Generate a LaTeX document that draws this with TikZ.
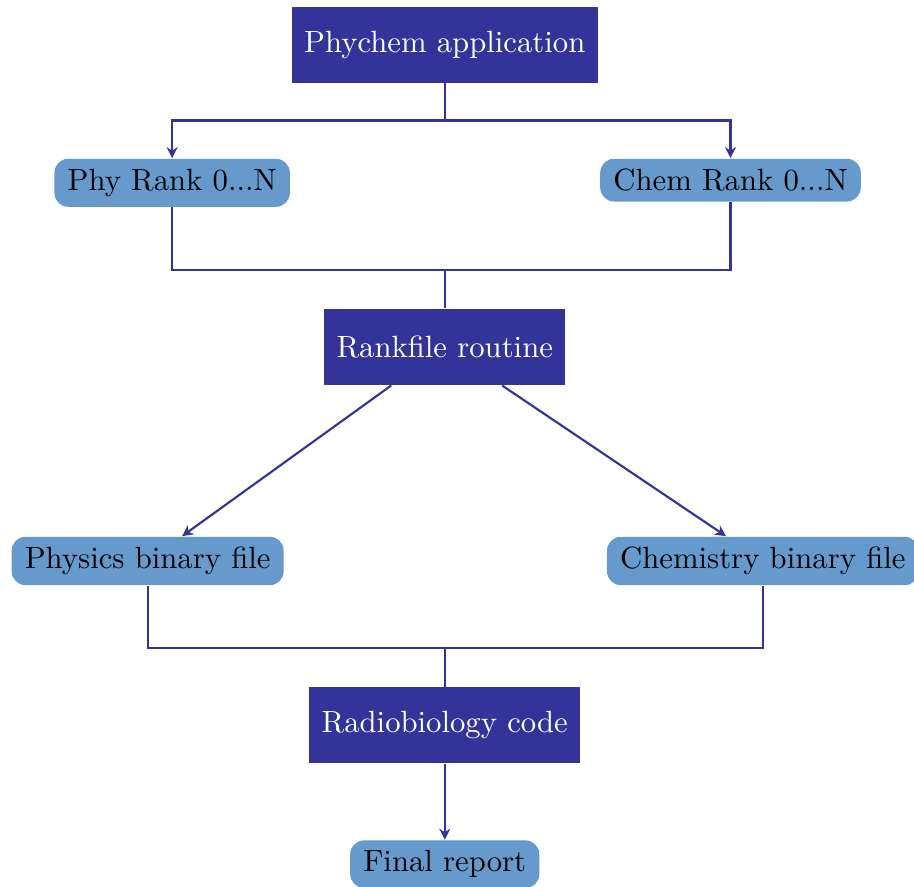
\documentclass[tikz,border=0pt]{standalone}
\usepackage{tikz}
\usetikzlibrary{arrows.meta}

\definecolor{darkblue}{RGB}{51,51,153}
\definecolor{lightblue}{RGB}{102,153,204}

\tikzset{
    darkbox/.style={fill=darkblue, text=white, inner xsep=4pt, minimum height=8.7mm},
    lightbox/.style={fill=lightblue, text=black, inner xsep=4.3pt, rounded corners=1.6mm},
    link/.style={draw=darkblue, line width=0.7pt, >={Stealth[length=3.6pt,width=3.6pt]}}
}

\begin{document}
\begin{tikzpicture}
        \useasboundingbox (0,0) rectangle (104.6mm,101.4mm);

        %application
        \node[darkbox] (app) at (50.9mm,96.3mm) {Phychem application};
        \coordinate (split) at (50.9mm,87.6mm);

        %ranks
        \node[lightbox, anchor=north] (phy) at (19.7mm,83.3mm) {Phy Rank 0...N};
        \node[lightbox, anchor=north] (chem) at (83.6mm,83.3mm) {Chem Rank 0...N};
        \coordinate (join1) at (50.9mm,70.5mm);

        %rankfile
        \node[darkbox] (rank) at (50.9mm,61.7mm) {Rankfile routine};

        %binary files
        \node[lightbox] (phys) at (16.9mm,37.2mm) {Physics binary file};
        \node[lightbox] (chemb) at (87.3mm,37.2mm) {Chemistry binary file};
        \coordinate (join2) at (50.9mm,27.2mm);

        %radiobiology
        \node[darkbox] (radio) at (50.9mm,18.4mm) {Radiobiology code};
        \node[lightbox, anchor=north] (final) at (50.9mm,5.3mm) {Final report};

        \draw[link] (app.south) -- (split);
        \draw[link,->] (split) -| (phy.north);
        \draw[link,->] (split) -| (chem.north);

        \draw[link] (phy.south) |- (join1) -| (chem.south);
        \draw[link] (join1) -- (rank.north);

        \draw[link,->] (rank) -- (phys);
        \draw[link,->] (rank) -- (chemb);

        \draw[link] (phys.south) |- (join2) -| (chemb.south);
        \draw[link] (join2) -- (radio.north);

        \draw[link,->] (radio.south) -- (final.north);
    \end{tikzpicture}
\end{document}
